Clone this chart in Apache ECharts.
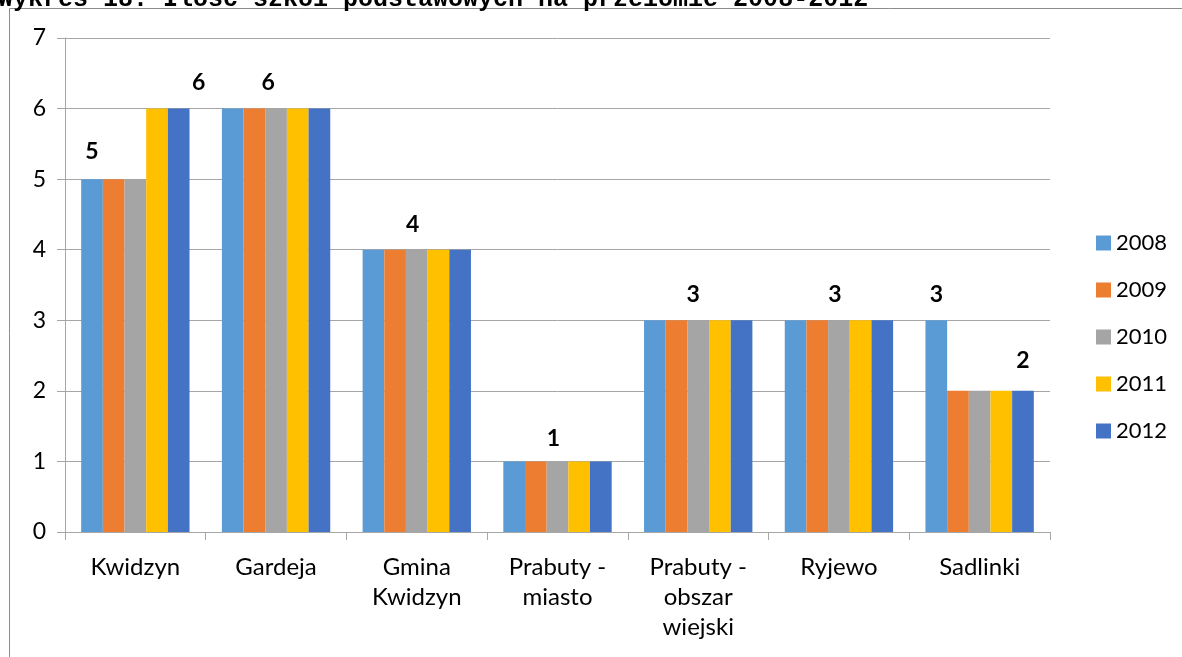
<!DOCTYPE html>
<html>
<head>
<meta charset="utf-8">
<script src="https://cdn.jsdelivr.net/npm/echarts@6/dist/echarts.min.js"></script>
<style>
  html, body { margin: 0; padding: 0; background: #fff; }
  #main { width: 1182px; height: 657px; }
</style>
</head>
<body>
<div id="main"></div>
<script>
var gminy = ['Kwidzyn', 'Gardeja', 'Gmina\nKwidzyn', 'Prabuty -\nmiasto', 'Prabuty -\nobszar\nwiejski', 'Ryjewo', 'Sadlinki'];
var lata = ['2008', '2009', '2010', '2011', '2012'];
var s2008 = [5, 6, 4, 1, 3, 3, 3];
var s2009 = [5, 6, 4, 1, 3, 3, 2];
var s2010 = [5, 6, 4, 1, 3, 3, 2];
var s2011 = [6, 6, 4, 1, 3, 3, 2];
var s2012 = [6, 6, 4, 1, 3, 3, 2];
var kolory = ['#5B9BD5', '#ED7D31', '#A5A5A5', '#FFC000', '#4472C4'];

// which bar carries the value label: [series, category, x shift, y shift]
var etykiety = [
    [0, 0, 0, -2], [4, 0, 20, 0],
    [2, 1, -8, 0], [2, 2, -4, 0], [2, 3, -4, 3],
    [2, 4, -5, 0], [2, 5, -4, 0],
    [0, 6, 0, 0], [4, 6, 0, -5]
];

var dane = [s2008, s2009, s2010, s2011, s2012];

var myChart = echarts.init(document.getElementById('main'));

var series = lata.map(function (rok, i) {
    var d = dane[i].map(function (v, j) {
        var e = etykiety.filter(function (t) { return t[0] === i && t[1] === j; })[0];
        if (!e) return v;
        return {
            value: v,
            label: {
                show: true,
                position: 'top',
                distance: 14,
                offset: [e[2], e[3]],
                fontFamily: 'Lato',
                fontWeight: 'bold',
                fontSize: 23,
                color: '#000'
            }
        };
    });
    return {
        name: rok,
        type: 'bar',
        barGap: 0,
        barCategoryGap: '23%',
        itemStyle: { color: kolory[i] },
        data: d
    };
});

myChart.setOption({
    animation: false,
    title: {
        text: 'Wykres 18. Ilość szkół podstawowych na przełomie 2008-2012',
        left: -7,
        top: -18,
        textStyle: {
            fontFamily: 'Liberation Mono',
            fontWeight: 'bold',
            fontSize: 25,
            color: '#000'
        }
    },
    graphic: [{
        type: 'rect',
        shape: { x: 9.5, y: 8.5, width: 1200, height: 700 },
        style: { fill: 'none', stroke: '#8c8c8c', lineWidth: 1 },
        silent: true
    }],
    legend: {
        orient: 'vertical',
        left: 1091,
        top: 227,
        itemWidth: 15,
        itemHeight: 15,
        itemGap: 25,
        icon: 'rect',
        textStyle: { fontFamily: 'Lato', fontSize: 22, color: '#000' },
        data: lata
    },
    grid: { left: 65, right: 132, top: 38, bottom: 125 },
    xAxis: {
        type: 'category',
        data: gminy,
        axisLine: { lineStyle: { color: '#a6a6a6' } },
        axisTick: { show: true, length: 8, lineStyle: { color: '#a6a6a6' } },
        axisLabel: {
            fontFamily: 'Lato',
            fontSize: 24,
            color: '#000',
            lineHeight: 30,
            margin: 20,
            interval: 0
        }
    },
    yAxis: {
        type: 'value',
        min: 0,
        max: 7,
        interval: 1,
        axisLine: { show: true, lineStyle: { color: '#a6a6a6' } },
        axisTick: { show: true, length: 8, lineStyle: { color: '#a6a6a6' } },
        splitLine: { lineStyle: { color: '#a6a6a6' } },
        axisLabel: { fontFamily: 'Lato', fontSize: 23, color: '#000', margin: 19 }
    },
    series: series
});
</script>
</body>
</html>
